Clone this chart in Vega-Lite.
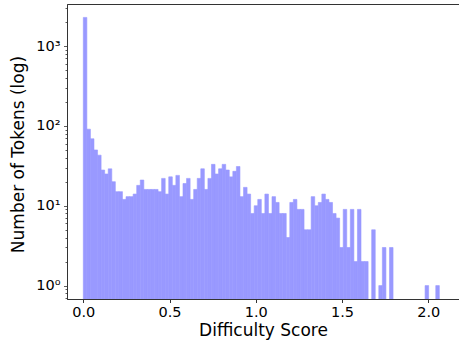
{
  "$schema": "https://vega.github.io/schema/vega-lite/v6.json",
  "width": 394,
  "height": 295,
  "autosize": {"type": "none"},
  "padding": {"left": 67, "top": 4, "right": 0, "bottom": 46},
  "background": "white",
  "config": {
    "font": "DejaVu Sans",
    "view": {"stroke": "#333", "strokeWidth": 1},
    "axis": {
      "domainColor": "#333",
      "tickColor": "#333",
      "labelColor": "#000",
      "titleColor": "#000",
      "labelFont": "DejaVu Sans",
      "titleFont": "DejaVu Sans",
      "labelFontSize": 14.5,
      "titleFontSize": 17,
      "titleFontWeight": "normal",
      "grid": false
    }
  },
  "data": {
    "values": [
      {"s": 0, "e": 0.02064, "n": 2285},
      {"s": 0.02064, "e": 0.04128, "n": 91},
      {"s": 0.04128, "e": 0.06192, "n": 69},
      {"s": 0.06192, "e": 0.08256, "n": 50},
      {"s": 0.08256, "e": 0.1032, "n": 43},
      {"s": 0.1032, "e": 0.12384, "n": 28},
      {"s": 0.12384, "e": 0.14448, "n": 25},
      {"s": 0.14448, "e": 0.16512, "n": 29},
      {"s": 0.16512, "e": 0.18576, "n": 20},
      {"s": 0.18576, "e": 0.2064, "n": 15},
      {"s": 0.2064, "e": 0.22704, "n": 15},
      {"s": 0.22704, "e": 0.24768, "n": 12},
      {"s": 0.24768, "e": 0.26832, "n": 13},
      {"s": 0.26832, "e": 0.28896, "n": 13},
      {"s": 0.28896, "e": 0.3096, "n": 14},
      {"s": 0.3096, "e": 0.33024, "n": 18},
      {"s": 0.33024, "e": 0.35088, "n": 21},
      {"s": 0.35088, "e": 0.37152, "n": 16},
      {"s": 0.37152, "e": 0.39216, "n": 16},
      {"s": 0.39216, "e": 0.4128, "n": 16},
      {"s": 0.4128, "e": 0.43344, "n": 16},
      {"s": 0.43344, "e": 0.45408, "n": 15},
      {"s": 0.45408, "e": 0.47472, "n": 22},
      {"s": 0.47472, "e": 0.49536, "n": 14},
      {"s": 0.49536, "e": 0.516, "n": 23},
      {"s": 0.516, "e": 0.53664, "n": 18},
      {"s": 0.53664, "e": 0.55728, "n": 24},
      {"s": 0.55728, "e": 0.57792, "n": 13},
      {"s": 0.57792, "e": 0.59856, "n": 19},
      {"s": 0.59856, "e": 0.6192, "n": 22},
      {"s": 0.6192, "e": 0.63984, "n": 12},
      {"s": 0.63984, "e": 0.66048, "n": 16},
      {"s": 0.66048, "e": 0.68112, "n": 22},
      {"s": 0.68112, "e": 0.70176, "n": 29},
      {"s": 0.70176, "e": 0.7224, "n": 16},
      {"s": 0.7224, "e": 0.74304, "n": 22},
      {"s": 0.74304, "e": 0.76368, "n": 33},
      {"s": 0.76368, "e": 0.78432, "n": 25},
      {"s": 0.78432, "e": 0.80496, "n": 29},
      {"s": 0.80496, "e": 0.8256, "n": 33},
      {"s": 0.8256, "e": 0.84624, "n": 28},
      {"s": 0.84624, "e": 0.86688, "n": 23},
      {"s": 0.86688, "e": 0.88752, "n": 27},
      {"s": 0.88752, "e": 0.90816, "n": 31},
      {"s": 0.90816, "e": 0.9288, "n": 13},
      {"s": 0.9288, "e": 0.94944, "n": 17},
      {"s": 0.94944, "e": 0.97008, "n": 14},
      {"s": 0.97008, "e": 0.99072, "n": 8},
      {"s": 0.99072, "e": 1.01136, "n": 10},
      {"s": 1.01136, "e": 1.032, "n": 12},
      {"s": 1.032, "e": 1.05264, "n": 8},
      {"s": 1.05264, "e": 1.07328, "n": 14},
      {"s": 1.07328, "e": 1.09392, "n": 8},
      {"s": 1.09392, "e": 1.11456, "n": 13},
      {"s": 1.11456, "e": 1.1352, "n": 11},
      {"s": 1.1352, "e": 1.15584, "n": 8},
      {"s": 1.15584, "e": 1.17648, "n": 8},
      {"s": 1.17648, "e": 1.19712, "n": 4},
      {"s": 1.19712, "e": 1.21776, "n": 11},
      {"s": 1.21776, "e": 1.2384, "n": 12},
      {"s": 1.2384, "e": 1.25904, "n": 9},
      {"s": 1.25904, "e": 1.27968, "n": 9},
      {"s": 1.27968, "e": 1.30032, "n": 5},
      {"s": 1.30032, "e": 1.32096, "n": 5},
      {"s": 1.32096, "e": 1.3416, "n": 13},
      {"s": 1.3416, "e": 1.36224, "n": 10},
      {"s": 1.36224, "e": 1.38288, "n": 11},
      {"s": 1.38288, "e": 1.40352, "n": 14},
      {"s": 1.40352, "e": 1.42416, "n": 12},
      {"s": 1.42416, "e": 1.4448, "n": 11},
      {"s": 1.4448, "e": 1.46544, "n": 8},
      {"s": 1.46544, "e": 1.48608, "n": 7},
      {"s": 1.48608, "e": 1.50672, "n": 3},
      {"s": 1.50672, "e": 1.52736, "n": 9},
      {"s": 1.52736, "e": 1.548, "n": 3},
      {"s": 1.548, "e": 1.56864, "n": 9},
      {"s": 1.56864, "e": 1.58928, "n": 2},
      {"s": 1.58928, "e": 1.60992, "n": 9},
      {"s": 1.60992, "e": 1.63056, "n": 2},
      {"s": 1.63056, "e": 1.6512, "n": 2},
      {"s": 1.67184, "e": 1.69248, "n": 5},
      {"s": 1.71312, "e": 1.73376, "n": 1},
      {"s": 1.73376, "e": 1.7544, "n": 3},
      {"s": 1.77504, "e": 1.79568, "n": 3},
      {"s": 1.98144, "e": 2.00208, "n": 1},
      {"s": 2.04336, "e": 2.064, "n": 1}
    ]
  },
  "mark": {"type": "bar", "color": "#9999ff", "stroke": "#9999ff", "strokeWidth": 0.6, "binSpacing": 0, "clip": true},
  "encoding": {
    "x": {
      "field": "s",
      "type": "quantitative",
      "scale": {"domain": [-0.0945, 2.1896], "nice": false, "zero": false},
      "axis": {
        "title": "Difficulty Score",
        "values": [0, 0.5, 1, 1.5, 2],
        "format": ".1f",
        "tickSize": 3.5,
        "labelPadding": 3,
        "titleX": 196,
        "titleY": 31,
        "titleBaseline": "middle",
        "titleAlign": "center"
      }
    },
    "x2": {"field": "e"},
    "y": {
      "field": "n",
      "type": "quantitative",
      "scale": {"type": "log", "domain": [0.679, 3365], "nice": false},
      "axis": {
        "title": "Number of Tokens (log)",
        "values": [0.7, 0.8, 0.9, 1, 2, 3, 4, 5, 6, 7, 8, 9, 10, 20, 30, 40, 50, 60, 70, 80, 90, 100, 200, 300, 400, 500, 600, 700, 800, 900, 1000, 2000, 3000],
        "labelExpr": "datum.value == 1 ? '10⁰' : datum.value == 10 ? '10¹' : datum.value == 100 ? '10²' : datum.value == 1000 ? '10³' : ''",
        "tickSize": {"condition": {"test": "indexof([1,10,100,1000], datum.value) >= 0", "value": 3.5}, "value": 2},
        "labelPadding": 3.5,
        "tickWidth": 0.8,
        "titleX": -49,
        "titleY": 150,
        "titleAngle": -90,
        "titleBaseline": "middle",
        "titleAlign": "center"
      }
    },
    "y2": {"datum": 0.5}
  }
}
